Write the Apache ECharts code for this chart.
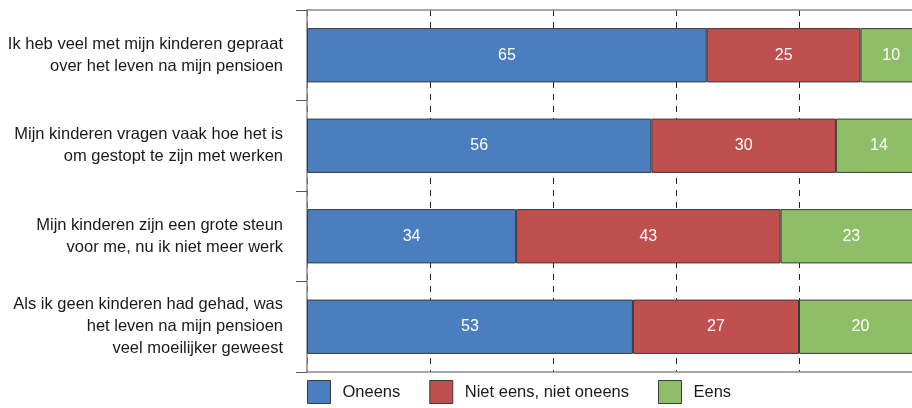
<!DOCTYPE html>
<html>
<head>
<meta charset="utf-8">
<script src="https://cdn.jsdelivr.net/npm/echarts@6/dist/echarts.min.js"></script>
<style>
  html, body { margin: 0; padding: 0; background: #ffffff; overflow: hidden; }
  /* the plot runs on past the right edge of the page, so the frame crops it */
  #frame { width: 912px; height: 408px; overflow: hidden; }
  #chart { width: 922px; height: 408px; }
</style>
</head>
<body>
<div id="frame"><div id="chart"></div></div>
<script>
// Stellingen over kinderen en pensioen (percentages per antwoord)
const categories = [
  'Ik heb veel met mijn kinderen gepraat\nover het leven na mijn pensioen',
  'Mijn kinderen vragen vaak hoe het is\nom gestopt te zijn met werken',
  'Mijn kinderen zijn een grote steun\nvoor me, nu ik niet meer werk',
  'Als ik geen kinderen had gehad, was\nhet leven na mijn pensioen\nveel moeilijker geweest'
];
const seriesNames = ['Oneens', 'Niet eens, niet oneens', 'Eens'];
const oneens = [65, 56, 34, 53];
const neutraal = [25, 30, 43, 27];
const eens = [10, 14, 23, 20];
const xTicks = [0, 20, 40, 60, 80, 100];

const colors = ['#4a7ebf', '#c0504d', '#8fbe68'];
const font = '"Liberation Sans", Arial, sans-serif';

const chart = echarts.init(document.getElementById('chart'), null, { renderer: 'canvas' });

const values = [oneens, neutraal, eens];
const series = seriesNames.map((name, i) => ({
  name,
  type: 'bar',
  stack: 'totaal',
  barWidth: '60%',
  data: values[i],
  itemStyle: { color: colors[i], borderColor: '#3a3a3a', borderWidth: 1 },
  label: {
    show: true,
    position: 'inside',
    color: '#ffffff',
    fontFamily: font,
    fontSize: 16
  }
}));

const axisGrey = '#8a8a8a';

chart.setOption({
  animation: false,
  color: colors,
  grid: { left: 307, right: 0, top: 10, bottom: 36, containLabel: false },
  xAxis: [
    {
      type: 'value',
      position: 'bottom',
      min: xTicks[0],
      max: xTicks[xTicks.length - 1],
      interval: 20,
      axisLabel: { show: false },
      axisTick: { show: false },
      axisLine: { show: true, lineStyle: { color: axisGrey, width: 1.5 } },
      splitLine: { show: true, lineStyle: { color: '#222222', type: [6, 6], width: 1 } }
    },
    {
      type: 'value',
      position: 'top',
      min: xTicks[0],
      max: xTicks[xTicks.length - 1],
      interval: 20,
      axisLabel: { show: false },
      axisTick: { show: false },
      axisLine: { show: true, lineStyle: { color: axisGrey, width: 1.5 } },
      splitLine: { show: false }
    }
  ],
  yAxis: {
    type: 'category',
    inverse: true,
    data: categories,
    axisLine: { show: true, lineStyle: { color: axisGrey, width: 1.5 } },
    axisTick: { show: true, length: 11, lineStyle: { color: '#555555', width: 1 } },
    axisLabel: {
      margin: 24,
      color: '#1a1a1a',
      fontFamily: font,
      fontSize: 16.5,
      lineHeight: 22,
      align: 'right'
    },
    splitLine: { show: false }
  },
  legend: {
    left: 307,
    bottom: 4,
    padding: 0,
    itemWidth: 23,
    itemHeight: 23,
    itemGap: 29,
    icon: 'rect',
    itemStyle: { borderColor: '#3a3a3a', borderWidth: 1 },
    textStyle: {
      fontFamily: font,
      fontSize: 16.5,
      color: '#1a1a1a',
      padding: [0, 0, 0, 7]
    },
    data: seriesNames
  },
  series
});
</script>
</body>
</html>
